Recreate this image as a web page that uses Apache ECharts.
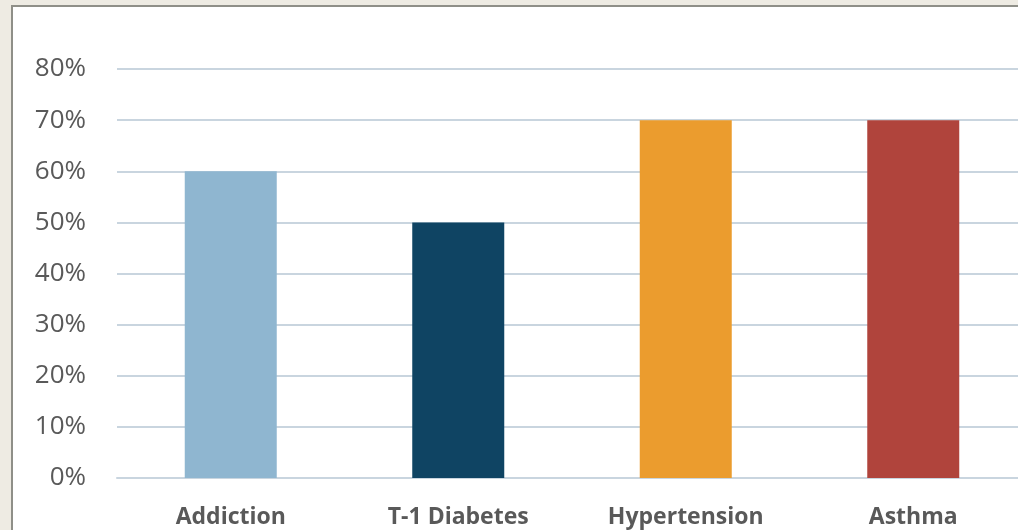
<!DOCTYPE html>
<html>
<head>
<meta charset="utf-8">
<script src="https://cdn.jsdelivr.net/npm/echarts@6/dist/echarts.min.js"></script>
<style>
  html, body { margin: 0; padding: 0; width: 1018px; height: 530px; overflow: hidden; background: #EEEBE3; }
  #frame { position: absolute; left: 11px; top: 5px; width: 1100px; height: 600px;
           background: #ffffff; border: 2px solid #8F8F88; box-sizing: border-box; }
  /* the plot runs past the right edge of the window, so the canvas is a little wider */
  #chart { position: absolute; left: 0; top: 0; width: 1030px; height: 530px; }
</style>
</head>
<body>
<div id="frame"></div>
<div id="chart"></div>
<script>
// Share of cases per condition
const categories = ['Addiction', 'T-1 Diabetes', 'Hypertension', 'Asthma'];
const values = [60, 50, 70, 70];
const barColors = ['#8FB6D0', '#0F4463', '#EB9C2E', '#B0443C'];
const yTicks = { min: 0, max: 80, interval: 10 };

const chart = echarts.init(document.getElementById('chart'), null, { renderer: 'canvas' });
chart.setOption({
  backgroundColor: 'transparent',
  animation: false,
  grid: { left: 117, right: 3, top: 69, bottom: 52, containLabel: false },
  xAxis: {
    type: 'category',
    data: categories,
    axisTick: { show: false },
    axisLine: { show: true, lineStyle: { color: '#C9D5DF', width: 2 } },
    axisLabel: {
      margin: 28,
      color: '#595959',
      fontFamily: '"Open Sans", sans-serif',
      fontWeight: 'bold',
      fontSize: 23
    }
  },
  yAxis: {
    type: 'value',
    min: yTicks.min,
    max: yTicks.max,
    interval: yTicks.interval,
    axisLine: { show: false },
    axisTick: { show: false },
    splitLine: { lineStyle: { color: '#C9D5DF', width: 2 } },
    axisLabel: {
      margin: 31,
      color: '#595959',
      fontFamily: '"Open Sans", sans-serif',
      fontSize: 26,
      formatter: v => v + '%'
    }
  },
  series: [{
    type: 'bar',
    barWidth: 92,
    data: values.map((v, i) => ({ value: v, itemStyle: { color: barColors[i] } }))
  }]
});
</script>
</body>
</html>
